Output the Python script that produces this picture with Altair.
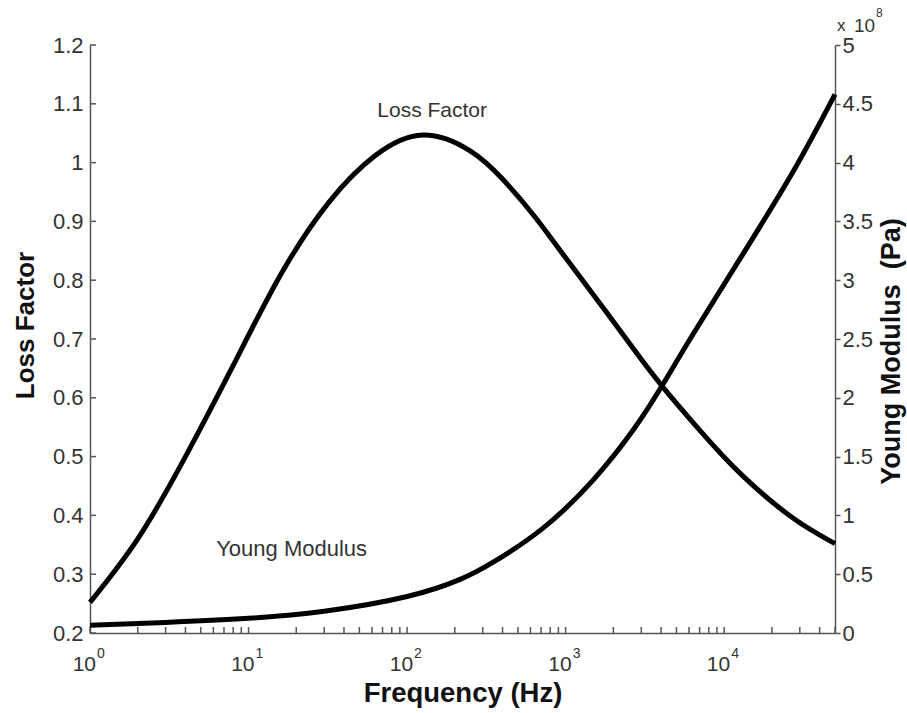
import altair as alt
import pandas as pd

# ---------------- data ----------------
freq_loss = [1, 2, 4, 8, 16, 32, 63, 126, 250, 400, 630, 1000, 1650, 2700,
             4000, 7000, 13000, 27000, 50000]
loss_factor = [0.252, 0.360, 0.500, 0.655, 0.810, 0.932, 1.012, 1.047, 1.020,
               0.972, 0.910, 0.838, 0.760, 0.682, 0.622, 0.545, 0.468, 0.396,
               0.352]

freq_young = [1, 3, 10, 30, 100, 216, 347, 717, 1490, 2680, 4045, 6360, 13100,
              27400, 50000]
young_modulus = [0.065, 0.09, 0.125, 0.185, 0.31, 0.456, 0.60, 0.89, 1.30,
                 1.73, 2.10, 2.54, 3.22, 3.93, 4.58]  # x 1e8 Pa

loss_ticks = [0.2, 0.3, 0.4, 0.5, 0.6, 0.7, 0.8, 0.9, 1, 1.1, 1.2]
young_ticks = [0, 0.5, 1, 1.5, 2, 2.5, 3, 3.5, 4, 4.5, 5]
decades = [1, 10, 100, 1000, 10000]
decade_exp = ["0", "1", "2", "3", "4"]
minor_ticks = [2, 3, 4, 5, 6, 7, 8, 9,
               20, 30, 40, 50, 60, 70, 80, 90,
               200, 300, 400, 500, 600, 700, 800, 900,
               2000, 3000, 4000, 5000, 6000, 7000, 8000, 9000,
               20000, 30000, 40000, 50000]

annot_loss = {"f": [144], "v": [1.088], "label": ["Loss Factor"]}
annot_young = {"f": [18.7], "m": [0.714], "label": ["Young Modulus"]}

# ---------------- layout / style ----------------
W, H = 745, 588
FONT = "Liberation Sans"
AXC = "#555555"
TXC = "#333333"

xscale = alt.Scale(type="log", domain=[1, 50000], nice=False)
lscale = alt.Scale(domain=[0.2, 1.2], nice=False, zero=False)
rscale = alt.Scale(domain=[0, 5], nice=False, zero=False)

xaxis = alt.Axis(ticks=False, labels=False, grid=False, domainColor=AXC,
                 domainWidth=1.5, title="Frequency (Hz)", titleFont=FONT,
                 titleFontSize=27.5, titleFontWeight="bold", titleColor="#111111",
                 titleY=68, titleBaseline="alphabetic")
laxis = alt.Axis(values=loss_ticks, ticks=False, grid=False, domainColor=AXC,
                 domainWidth=1.5, labelFont=FONT, labelFontSize=22,
                 labelColor=TXC, labelPadding=7, labelExpr="datum.value",
                 title="Loss Factor", titleFont=FONT, titleFontSize=26,
                 titleFontWeight="bold", titleColor="#111111", titleAngle=270,
                 titleX=-57, titleY=280, titleBaseline="alphabetic",
                 titleAlign="center")
raxis = alt.Axis(orient="right", values=young_ticks, tickSize=5, tickColor=AXC,
                 tickWidth=1.5, grid=False, domainColor=AXC, domainWidth=1.5,
                 labelFont=FONT, labelFontSize=22, labelColor=TXC,
                 labelPadding=2, labelExpr="datum.value",
                 title="Young Modulus\u00a0 (Pa)", titleFont=FONT,
                 titleFontSize=27, titleFontWeight="bold", titleColor="#111111",
                 titleAngle=270, titleX=64, titleY=306,
                 titleBaseline="alphabetic", titleAlign="center")

X = alt.X("f:Q", scale=xscale, axis=xaxis)
YL = alt.Y("v:Q", scale=lscale, axis=laxis)
YR = alt.Y("m:Q", scale=rscale, axis=raxis)

df_loss = pd.DataFrame({"f": freq_loss, "v": loss_factor})
df_young = pd.DataFrame({"f": freq_young, "m": young_modulus})

# ----- left group (loss factor) -----
loss_line = alt.Chart(df_loss).mark_line(
    color="black", strokeWidth=5, interpolate="natural"
).encode(x=X, y=YL)

left_ticks = alt.Chart(pd.DataFrame({"v": loss_ticks})).mark_rule(
    color=AXC, strokeWidth=1.5
).encode(y=YL, x=alt.value(0), x2=alt.value(6))

x_ticks = alt.Chart(pd.DataFrame({"f": decades + minor_ticks})).mark_rule(
    color=AXC, strokeWidth=1.5
).encode(x=X, y=alt.value(H), y2=alt.value(H - 6))

x_lab10 = alt.Chart(pd.DataFrame({"f": decades})).mark_text(
    text="10", font=FONT, fontSize=21, color=TXC, align="right",
    baseline="alphabetic", dx=6
).encode(x=X, y=alt.value(H + 38))

x_labexp = alt.Chart(pd.DataFrame({"f": decades, "e": decade_exp})).mark_text(
    font=FONT, fontSize=14, color=TXC, align="left", baseline="alphabetic",
    dx=7
).encode(x=X, y=alt.value(H + 25), text="e:N")

loss_label = alt.Chart(pd.DataFrame(annot_loss)).mark_text(
    font=FONT, fontSize=21, color=TXC, align="center", baseline="middle"
).encode(x=X, y=YL, text="label:N")

left = alt.layer(loss_line, left_ticks, x_ticks, x_lab10, x_labexp, loss_label)

# ----- right group (Young modulus) -----
young_line = alt.Chart(df_young).mark_line(
    color="black", strokeWidth=5, interpolate="natural"
).encode(x=X, y=YR)

young_label = alt.Chart(pd.DataFrame(annot_young)).mark_text(
    font=FONT, fontSize=22, color=TXC, align="center", baseline="middle"
).encode(x=X, y=YR, text="label:N")

mult_x = alt.Chart(pd.DataFrame({"t": ["x"]})).mark_text(
    font=FONT, fontSize=17, color=TXC, align="left", baseline="alphabetic"
).encode(x=alt.value(W + 2), y=alt.value(-14), text="t:N")

mult10 = alt.Chart(pd.DataFrame({"t": ["10"]})).mark_text(
    font=FONT, fontSize=19, color=TXC, align="left", baseline="alphabetic"
).encode(x=alt.value(W + 19), y=alt.value(-13), text="t:N")

mult_exp = alt.Chart(pd.DataFrame({"t": ["8"]})).mark_text(
    font=FONT, fontSize=12, color=TXC, align="left", baseline="alphabetic"
).encode(x=alt.value(W + 41), y=alt.value(-28), text="t:N")

right = alt.layer(young_line, young_label, mult_x, mult10, mult_exp)

chart = alt.layer(left, right).resolve_scale(y="independent").properties(
    width=W, height=H,
    autosize=alt.AutoSizeParams(type="none"),
    padding={"left": 90, "top": 45, "right": 72, "bottom": 80},
    background="white",
).configure_view(stroke=None)

chart.save("out.html", embed_options={"renderer": "svg", "actions": False})
